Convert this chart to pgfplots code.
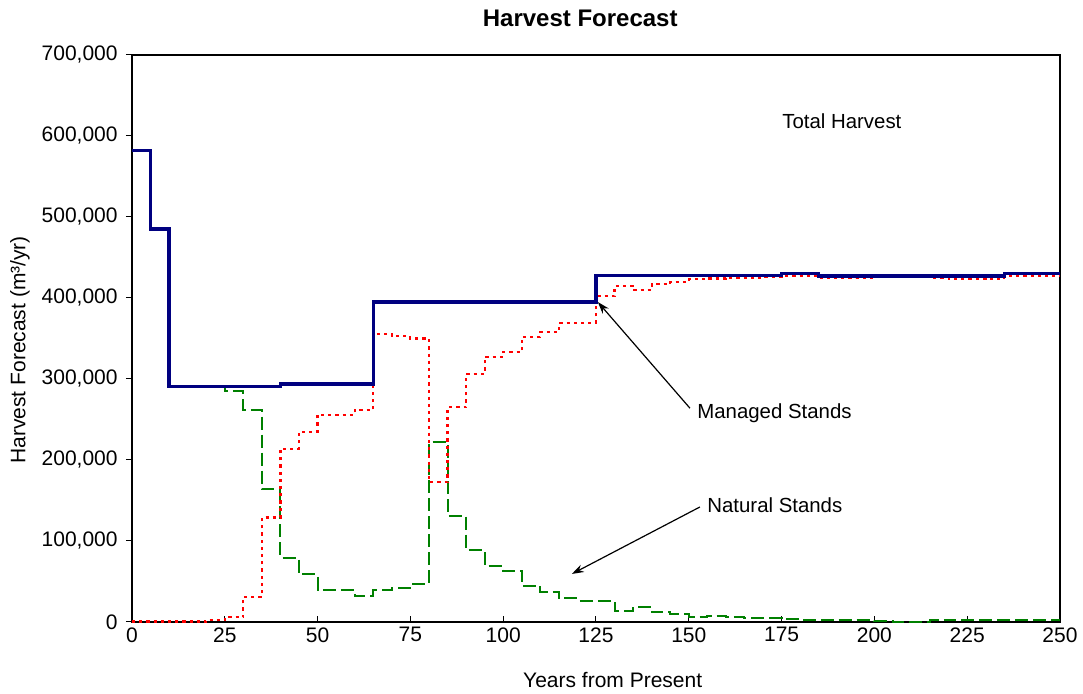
\documentclass[border=0pt]{standalone}
\usepackage{fontspec}
\setmainfont{Liberation Sans}
\usepackage{pgfplots}
\pgfplotsset{compat=1.18}
\usetikzlibrary{arrows.meta}
\definecolor{navyline}{RGB}{0,0,128}
\definecolor{greenline}{RGB}{0,128,0}
\definecolor{redline}{RGB}{255,0,0}
\begin{document}
\fontsize{10.5}{12.5}\selectfont
\begin{tikzpicture}
\useasboundingbox (-66pt,-36pt) rectangle (475.5pt,311pt);
\begin{axis}[
  at={(0,0)}, anchor=south west,
  scale only axis, width=464pt, height=283.5pt,
  xmin=0, xmax=250, ymin=0, ymax=700000,
  xtick={0,25,...,250},
  ytick={0,100000,200000,300000,400000,500000,600000,700000},
  xtick pos=bottom, ytick pos=left,
  scaled y ticks=false,
  /pgf/number format/.cd, fixed, 1000 sep={,}, assume math mode=true, /pgfplots/.cd,
  x tick style={black, line width=0.5pt}, y tick style={black, line width=0.5pt},
  xtick align=inside, ytick align=outside, major tick length=3pt,
  axis line style={black, line width=0.75pt},
  ticklabel style={font=\fontsize{10.5}{12.5}\selectfont},
  xticklabel style={yshift=1pt},
  yticklabel style={xshift=-0.5pt},
  xlabel={Years from Present},
  ylabel={Harvest Forecast (m³/yr)},
  xlabel style={at={(axis description cs:0.518,-0.102)}, anchor=center, font=\fontsize{10.5}{12.5}\selectfont},
  ylabel style={at={(axis description cs:-0.1207,0.48)}, anchor=center, font=\fontsize{10.5}{12.5}\selectfont},
  title={Harvest Forecast},
  title style={at={(axis description cs:0.483,1.044)}, anchor=center, font=\bfseries\fontsize{12}{14}\selectfont},
  clip=false,
]
% Natural stands
\addplot[const plot, greenline, line width=1pt, dash pattern=on 6.5pt off 2.5pt] coordinates {
(0,582000)(5,485000)(10,291000)(20,290000)(25,285000)(30,262000)(35,164000)(40,79000)(45,59000)(50,40000)(55,40000)(60,32000)(65,40000)(70,42000)(75,47000)(80,222000)(85,131000)(90,89000)(95,69000)(100,63000)(105,45000)(110,37000)(115,29000)(120,26000)(125,26000)(130,14000)(135,19000)(140,12000)(145,9500)(150,6000)(155,7000)(160,6000)(165,5000)(170,5000)(175,4000)(180,3000)(185,3000)(190,2000)(195,2000)(200,1000)(205,500)(210,500)(215,2500)(220,3000)(225,3000)(230,3000)(235,3000)(240,3000)(245,3000)(250,3000)};
% Managed stands
\addplot[const plot, redline, line width=1.1pt, dash pattern=on 1.6pt off 2pt] coordinates {
(0,500)(20,2500)(25,6000)(30,31000)(35,129000)(40,214000)(45,235000)(50,256000)(55,256000)(60,262000)(65,356000)(70,353000)(75,350000)(80,173000)(85,265000)(90,306000)(95,327000)(100,333000)(105,352000)(110,358000)(115,369000)(120,369000)(125,402000)(130,415000)(135,410000)(140,417000)(145,420000)(150,423000)(155,424000)(160,425000)(165,425000)(170,426000)(175,427000)(180,427000)(185,425000)(190,425000)(195,425000)(200,426000)(205,426000)(210,426000)(215,425000)(220,424000)(225,424000)(230,424000)(235,427000)(240,427000)(245,427000)(250,427000)};
% Total harvest
\addplot[const plot, navyline, line width=1.75pt] coordinates {
(0,582000)(5,485000)(10,291000)(40,294000)(65,395000)(125,428000)(175,430000)(185,427000)(235,430000)(250,430000)};
\node[anchor=west, inner sep=0pt, font=\fontsize{10.2}{12.5}\selectfont] at (axis cs:175.1,618500) {Total Harvest};
\node[anchor=west, inner sep=0pt, font=\fontsize{10.2}{12.5}\selectfont] at (axis cs:152.2,258000) {Managed Stands};
\node[anchor=west, inner sep=0pt, font=\fontsize{10.2}{12.5}\selectfont] at (axis cs:154.9,144000) {Natural Stands};
\draw[-{Stealth[length=6pt,width=4pt]}, line width=0.6pt, black] (axis cs:150.3,264000) -- (axis cs:125.5,395000);
\draw[-{Stealth[length=6pt,width=4pt]}, line width=0.6pt, black] (axis cs:153,142000) -- (axis cs:118.5,59300);
\end{axis}
\end{tikzpicture}
\end{document}
